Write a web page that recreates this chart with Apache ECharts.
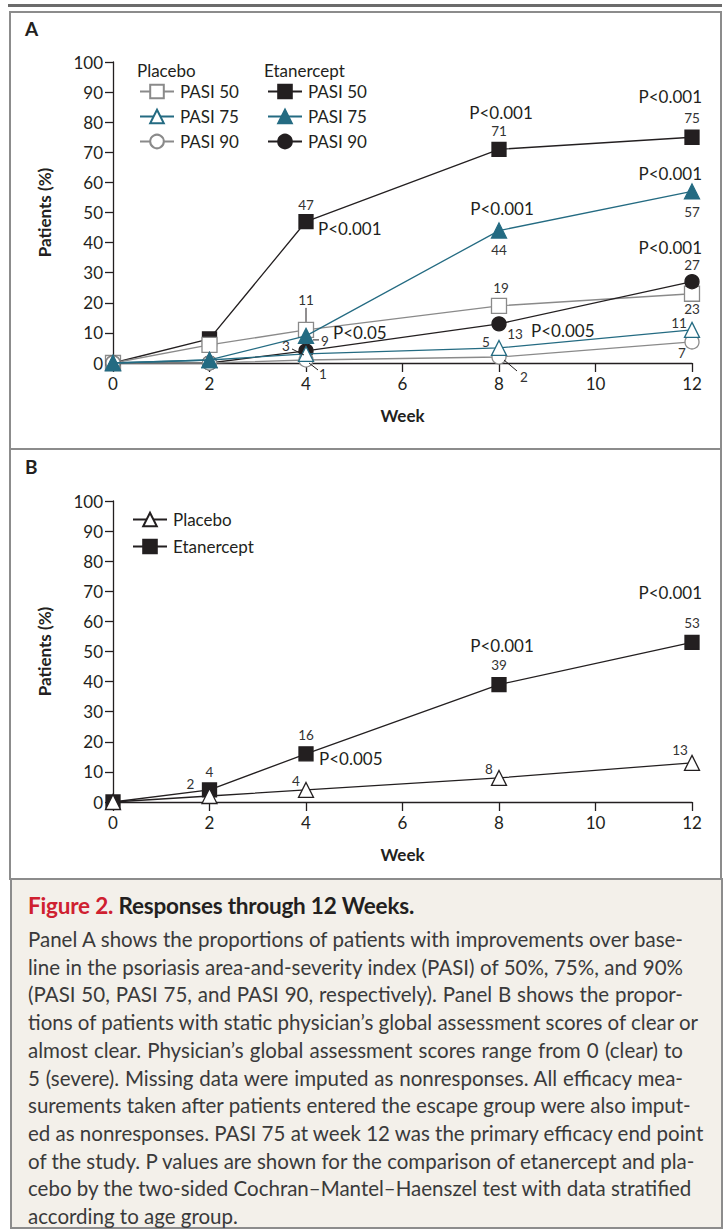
<!DOCTYPE html>
<html>
<head>
<meta charset="utf-8">
<script src="https://cdn.jsdelivr.net/npm/echarts@6/dist/echarts.min.js"></script>
<style>
  html, body { margin: 0; padding: 0; background: #fff; }
  body { width: 724px; height: 1229px; position: relative; overflow: hidden; font-family: Lato, "Open Sans", sans-serif; }
  #topline { position: absolute; left: 8px; top: 4px; width: 714px; height: 3px; background: #6b6b6b; }
  #chart { position: absolute; left: 0; top: 0; width: 724px; height: 880px; }
  #caption { position: absolute; left: 10px; top: 878px; width: 709px; height: 347px; background: #f3f0ea; border: 2px solid #8c8c8c; box-sizing: content-box; }
  #caption .title { position: absolute; left: 16px; top: 12px; font-size: 22.5px; font-weight: 700; color: #231f20; white-space: nowrap; letter-spacing: -0.2px; }
  #caption .title .fig { color: #cf2030; }
  #caption .body { position: absolute; left: 16px; top: 46px; width: 655px; font-size: 20.5px; line-height: 27.7px; color: #3a3a3a; }
  #caption .body div { text-align: justify; text-align-last: justify; white-space: nowrap; }
  #caption .body div.last { text-align-last: left; }
</style>
</head>
<body>
<div id="topline"></div>
<div id="chart"></div>
<div id="caption">
  <div class="title"><span class="fig">Figure 2.</span> Responses through 12 Weeks.</div>
  <div class="body">
    <div>Panel A shows the proportions of patients with improvements over base-</div>
    <div>line in the psoriasis area-and-severity index (PASI) of 50%, 75%, and 90%</div>
    <div>(PASI 50, PASI 75, and PASI 90, respectively). Panel B shows the propor-</div>
    <div>tions of patients with static physician’s global assessment scores of clear or</div>
    <div>almost clear. Physician’s global assessment scores range from 0 (clear) to</div>
    <div>5 (severe). Missing data were imputed as nonresponses. All efficacy mea-</div>
    <div>surements taken after patients entered the escape group were also imput-</div>
    <div>ed as nonresponses. PASI 75 at week 12 was the primary efficacy end point</div>
    <div>of the study. P values are shown for the comparison of etanercept and pla-</div>
    <div>cebo by the two-sided Cochran–Mantel–Haenszel test with data stratified</div>
    <div class="last">according to age group.</div>
  </div>
</div>
<script>
// ---------- DATA ----------
const weeks = [0, 2, 4, 8, 12];
const xTicks = [0, 2, 4, 6, 8, 10, 12];
const yTicks = [0, 10, 20, 30, 40, 50, 60, 70, 80, 90, 100];

// Panel A (PASI responses, % of patients)
const placeboPasi50 = [0, 6, 11, 19, 23];
const placeboPasi75 = [0, 1, 3, 5, 11];
const placeboPasi90 = [0, 0, 1, 2, 7];
const etanerceptPasi50 = [0, 8, 47, 71, 75];
const etanerceptPasi75 = [0, 1, 9, 44, 57];
const etanerceptPasi90 = [0, 0, 4, 13, 27];

// Panel B (static PGA clear / almost clear, % of patients)
const placeboPGA = [0, 2, 4, 8, 13];
const etanerceptPGA = [0, 4, 16, 39, 53];

// P-value annotation texts
const pA = { e50w4: 'P<0.001', e50w8: 'P<0.001', e50w12: 'P<0.001', e75w8: 'P<0.001', e75w12: 'P<0.001', e90w12: 'P<0.001', e90w8: 'P<0.005', e75w4: 'P<0.05' };
const pB = { w4: 'P<0.005', w8: 'P<0.001', w12: 'P<0.001' };

// ---------- STYLES ----------
const INK = '#231f20', GREY = '#8a8a8a', TEAL = '#246b82';
const FONT = 'Lato, "Open Sans", sans-serif';

function pts(arr) { return weeks.map((w, i) => [w, arr[i]]); }

function lineSeries(name, arr, grid, symbol, size, color, filled, z) {
  return {
    type: 'line', name, xAxisIndex: grid, yAxisIndex: grid,
    data: pts(arr), symbol, symbolSize: size, showSymbol: true,
    lineStyle: { color, width: 1.3 },
    itemStyle: { color: filled ? color : '#ffffff', borderColor: color, borderWidth: 1.3, opacity: 1 },
    z, animation: false, clip: false, emphasis: { disabled: true }
  };
}

// Annotation table: series array + index, text, pixel offsets
const NUM = 13.5, PF = 17;
function num(arr, i, dx, dy, lead, align) { return { x: weeks[i], y: arr[i], text: String(arr[i]), dx, dy, size: NUM, lead, align: align || 'center' }; }
function pv(arr, i, text, dx, dy, align) { return { x: weeks[i], y: arr[i], text, dx, dy, size: PF, align: align || 'center' }; }

const annA = [
  num(etanerceptPasi50, 2, 0, -17), pv(etanerceptPasi50, 2, pA.e50w4, 12, 7, 'left'),
  num(etanerceptPasi50, 3, 0, -18), pv(etanerceptPasi50, 3, pA.e50w8, 2, -37),
  num(etanerceptPasi50, 4, 0, -19), pv(etanerceptPasi50, 4, pA.e50w12, 10, -41, 'right'),
  num(etanerceptPasi75, 3, 0, 19), pv(etanerceptPasi75, 3, pA.e75w8, 3, -22),
  num(etanerceptPasi75, 4, 0, 21), pv(etanerceptPasi75, 4, pA.e75w12, 10, -18, 'right'),
  num(etanerceptPasi90, 4, 0, -17), pv(etanerceptPasi90, 4, pA.e90w12, 10, -34, 'right'),
  num(placeboPasi50, 4, 0, 15),
  num(placeboPasi50, 3, 2, -18),
  num(placeboPasi50, 2, 0, -30, [0, -22, 0, -8]),
  num(etanerceptPasi90, 3, 16, 10), pv(etanerceptPasi90, 3, pA.e90w8, 32, 7, 'left'),
  num(etanerceptPasi75, 2, 19, 5, [7, 4, 13, 4]), pv(etanerceptPasi75, 2, pA.e75w4, 27, -3, 'left'),
  num(placeboPasi75, 2, -20, -8, [-14, -5, -2, 1]),
  num(placeboPasi90, 2, 17, 14, [3, 3, 12, 10]),
  num(placeboPasi75, 3, -13, -6),
  num(placeboPasi90, 3, 25, 20, [5, 3, 18, 14]),
  num(placeboPasi75, 4, -13, -7),
  num(placeboPasi90, 4, -10, 11)
];
const annB = [
  num(etanerceptPGA, 1, 0, -18),
  num(placeboPGA, 1, -19, -12),
  num(etanerceptPGA, 2, 0, -19), pv(etanerceptPGA, 2, pB.w4, 13, 5, 'left'),
  num(placeboPGA, 2, -10, -9),
  num(placeboPGA, 3, -10, -9),
  num(etanerceptPGA, 3, 0, -20), pv(etanerceptPGA, 3, pB.w8, 3, -39),
  num(etanerceptPGA, 4, 0, -19), pv(etanerceptPGA, 4, pB.w12, 10, -50, 'right'),
  num(placeboPGA, 4, -12, -13)
];

function annSeries(ann, grid) {
  return {
    type: 'custom', xAxisIndex: grid, yAxisIndex: grid, z: 20, clip: false, animation: false, silent: true,
    data: ann.map(a => [a.x, a.y]),
    renderItem(params, api) {
      const a = ann[params.dataIndex];
      const p = api.coord([a.x, a.y]);
      const children = [];
      if (a.lead) {
        children.push({ type: 'line', shape: { x1: p[0] + a.lead[0], y1: p[1] + a.lead[1], x2: p[0] + a.lead[2], y2: p[1] + a.lead[3] }, style: { stroke: INK, lineWidth: 1 } });
      }
      children.push({ type: 'text', x: p[0] + a.dx, y: p[1] + a.dy, style: { text: a.text, fill: a.size === NUM ? '#333333' : INK, font: a.size + 'px ' + FONT, align: a.align, verticalAlign: 'middle' } });
      return { type: 'group', children };
    }
  };
}

function xAxisCfg(grid) {
  return {
    type: 'value', gridIndex: grid, min: xTicks[0], max: xTicks[xTicks.length - 1], interval: xTicks[1] - xTicks[0],
    name: 'Week', nameLocation: 'middle', nameGap: 44,
    nameTextStyle: { fontFamily: FONT, fontSize: 17, fontWeight: 'bold', color: INK },
    axisLine: { lineStyle: { color: INK, width: 1.3 } },
    axisTick: { inside: false, length: 9, lineStyle: { color: INK, width: 1.3 } },
    axisLabel: { fontFamily: FONT, fontSize: 17, color: INK, margin: 12 },
    splitLine: { show: false }
  };
}
function yAxisCfg(grid) {
  return {
    type: 'value', gridIndex: grid, min: yTicks[0], max: yTicks[yTicks.length - 1], interval: yTicks[1] - yTicks[0],
    name: 'Patients (%)', nameLocation: 'middle', nameGap: 60, nameRotate: 90,
    nameTextStyle: { fontFamily: FONT, fontSize: 17, fontWeight: 'bold', color: INK },
    axisLine: { show: true, lineStyle: { color: INK, width: 1.3 } },
    axisTick: { show: true, inside: false, length: 8, lineStyle: { color: INK, width: 1.3 } },
    axisLabel: { fontFamily: FONT, fontSize: 17, color: INK, margin: 10 },
    splitLine: { show: false }
  };
}

const legendBase = {
  orient: 'vertical', itemWidth: 34, itemHeight: 17, selectedMode: false,
  textStyle: { fontFamily: FONT, fontSize: 17, color: INK, padding: [0, 0, 0, 1] },
  formatter: n => n.replace(/^(Placebo|Etanercept) (?=PASI)/, '')
};

const chart = echarts.init(document.getElementById('chart'), null, { renderer: 'svg' });
chart.setOption({
  animation: false,
  backgroundColor: 'transparent',
  grid: [
    { left: 113, top: 62, width: 579, height: 301 },
    { left: 113, top: 501, width: 579, height: 301 }
  ],
  xAxis: [xAxisCfg(0), xAxisCfg(1)],
  yAxis: [yAxisCfg(0), yAxisCfg(1)],
  legend: [
    Object.assign({}, legendBase, { left: 134, top: 78, itemGap: 8, data: ['Placebo PASI 50', 'Placebo PASI 75', 'Placebo PASI 90'] }),
    Object.assign({}, legendBase, { left: 262, top: 78, itemGap: 8, data: ['Etanercept PASI 50', 'Etanercept PASI 75', 'Etanercept PASI 90'] }),
    Object.assign({}, legendBase, { left: 127, top: 506, itemGap: 10, data: ['Placebo', 'Etanercept'] })
  ],
  graphic: [
    { type: 'rect', shape: { x: 10, y: 12, width: 711, height: 437 }, style: { fill: 'none', stroke: '#8c8c8c', lineWidth: 2 }, silent: true },
    { type: 'rect', shape: { x: 10, y: 449, width: 711, height: 431 }, style: { fill: 'none', stroke: '#8c8c8c', lineWidth: 2 }, silent: true },
    { type: 'text', left: 25, top: 19, style: { text: 'A', font: 'bold 19px ' + FONT, fill: INK } },
    { type: 'text', left: 25, top: 457, style: { text: 'B', font: 'bold 19px ' + FONT, fill: INK } },
    { type: 'text', left: 137, top: 62, style: { text: 'Placebo', font: '17px ' + FONT, fill: INK } },
    { type: 'text', left: 264, top: 62, style: { text: 'Etanercept', font: '17px ' + FONT, fill: INK } }
  ],
  series: [
    lineSeries('Etanercept PASI 50', etanerceptPasi50, 0, 'rect', 14, INK, true, 2),
    lineSeries('Placebo PASI 50', placeboPasi50, 0, 'rect', 15, GREY, false, 3),
    lineSeries('Etanercept PASI 90', etanerceptPasi90, 0, 'circle', 14, INK, true, 4),
    lineSeries('Placebo PASI 90', placeboPasi90, 0, 'circle', 14, GREY, false, 5),
    lineSeries('Placebo PASI 75', placeboPasi75, 0, 'triangle', 15, TEAL, false, 6),
    lineSeries('Etanercept PASI 75', etanerceptPasi75, 0, 'triangle', 15, TEAL, true, 7),
    lineSeries('Placebo', placeboPGA, 1, 'triangle', 15, INK, false, 3),
    lineSeries('Etanercept', etanerceptPGA, 1, 'rect', 14, INK, true, 2),
    annSeries(annA, 0),
    annSeries(annB, 1)
  ]
});
</script>
</body>
</html>
